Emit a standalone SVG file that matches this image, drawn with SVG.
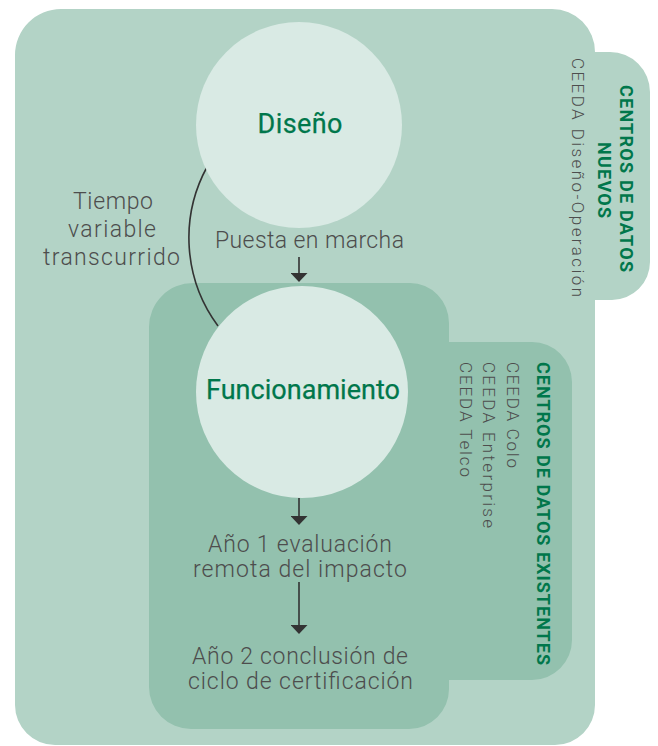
<svg xmlns="http://www.w3.org/2000/svg" width="658" height="746" viewBox="0 0 658 746">
  <style>
    .t-main { font-family: Roboto, "Liberation Sans", sans-serif; font-weight: 300; font-size: 23px; fill: #4d4d4d; text-anchor: middle; }
    .t-title { font-family: Roboto, "Liberation Sans", sans-serif; font-weight: 400; font-size: 27px; fill: #00774b; stroke: #00774b; stroke-width: 0.25; text-anchor: middle; }
    .t-vhead { font-family: Roboto, "Liberation Sans", sans-serif; font-weight: 700; font-size: 18px; fill: #00774b; }
    .t-vsub { font-family: Roboto, "Liberation Sans", sans-serif; font-weight: 300; font-size: 17px; fill: #4d4d4d; }
    .node-circle { fill: #d9eae4; }
    .conn { stroke: #333333; stroke-width: 1.6; fill: none; }
  </style>
  <defs>
    <marker id="arrowhead" viewBox="0 0 9 17" refX="4" refY="8.5" markerWidth="9" markerHeight="17" markerUnits="userSpaceOnUse" orient="auto">
      <path d="M0,0 L9,8.5 L0,17 Z" fill="#333333"/>
    </marker>
  </defs>

  <g id="region-nuevos">
    <path d="M61,9 L552,9 A43,43 0 0 1 595,52 L610,52 A40,40 0 0 1 650,92 L650,262 A38,38 0 0 1 612,300 L595,300 L595,705 A40,40 0 0 1 555,745 L55,745 A40,40 0 0 1 15,705 L15,55 A46,46 0 0 1 61,9 Z" fill="#b3d3c6"/>
    <text class="t-vhead" transform="translate(620,178.5) rotate(90)" text-anchor="middle" textLength="187" lengthAdjust="spacing">CENTROS DE DATOS</text>
    <text class="t-vhead" transform="translate(598,180) rotate(90)" text-anchor="middle" textLength="76" lengthAdjust="spacing">NUEVOS</text>
    <text class="t-vsub" transform="translate(572,58) rotate(90)" textLength="239" lengthAdjust="spacing">CEEDA Diseño-Operación</text>
  </g>

  <g id="region-existentes">
    <path d="M193,283 L410,283 A39,40 0 0 1 449,323 L449,342 L532,342 A40,40 0 0 1 572,382 L572,640 A40,40 0 0 1 532,680 L449,680 L449,689 A40,40 0 0 1 409,729 L191,729 A42,42 0 0 1 149,687 L149,327 A44,44 0 0 1 193,283 Z" fill="#93c1ae"/>
    <text class="t-vhead" transform="translate(537,362) rotate(90)" textLength="303" lengthAdjust="spacing">CENTROS DE DATOS EXISTENTES</text>
    <text class="t-vsub" transform="translate(507,362) rotate(90)" textLength="106" lengthAdjust="spacing">CEEDA Colo</text>
    <text class="t-vsub" transform="translate(483,362) rotate(90)" textLength="166" lengthAdjust="spacing">CEEDA Enterprise</text>
    <text class="t-vsub" transform="translate(460,362) rotate(90)" textLength="115" lengthAdjust="spacing">CEEDA Telco</text>
  </g>

  <g id="connectors">
    <path class="conn" d="M207,167 A148,148 0 0 0 218,326" stroke="#222222" stroke-width="1.5"/>
    <line class="conn" x1="299" y1="257" x2="299" y2="277" marker-end="url(#arrowhead)"/>
    <line class="conn" x1="299" y1="498" x2="299" y2="520" marker-end="url(#arrowhead)"/>
    <line class="conn" x1="299" y1="582" x2="299" y2="629" marker-end="url(#arrowhead)"/>
    <g id="label-tiempo">
      <text class="t-main" x="113" y="209" textLength="80" lengthAdjust="spacing">Tiempo</text>
      <text class="t-main" x="112" y="237" textLength="88" lengthAdjust="spacing">variable</text>
      <text class="t-main" x="111.5" y="265" textLength="137" lengthAdjust="spacing">transcurrido</text>
    </g>
    <text id="label-puesta" class="t-main" x="309.5" y="248" textLength="189" lengthAdjust="spacing">Puesta en marcha</text>
  </g>

  <g id="node-diseno">
    <circle class="node-circle" cx="299" cy="125" r="103"/>
    <text class="t-title" x="300" y="133" textLength="85" lengthAdjust="spacing">Diseño</text>
  </g>

  <g id="node-funcionamiento">
    <circle class="node-circle" cx="302" cy="392" r="106"/>
    <text class="t-title" x="303" y="399" textLength="194" lengthAdjust="spacing">Funcionamiento</text>
  </g>

  <g id="step-ano1">
    <text class="t-main" x="300" y="552" textLength="184" lengthAdjust="spacing">Año 1 evaluación</text>
    <text class="t-main" x="300" y="577" textLength="214" lengthAdjust="spacing">remota del impacto</text>
  </g>

  <g id="step-ano2">
    <text class="t-main" x="300" y="664" textLength="216" lengthAdjust="spacing">Año 2 conclusión de</text>
    <text class="t-main" x="300.5" y="689" textLength="225" lengthAdjust="spacing">ciclo de certificación</text>
  </g>
</svg>
